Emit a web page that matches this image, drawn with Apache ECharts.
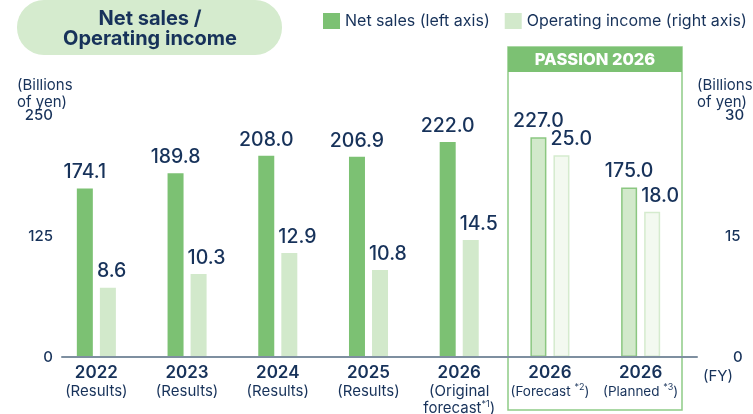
<!DOCTYPE html>
<html>
<head>
<meta charset="utf-8">
<script src="https://cdn.jsdelivr.net/npm/echarts@6/dist/echarts.min.js"></script>
<style>
  html, body { margin: 0; padding: 0; background: #fff; }
  #chart { width: 753px; height: 414px; }
</style>
</head>
<body>
<div id="chart"></div>
<script>
// data
const years = ['2022', '2023', '2024', '2025', '2026', '2026', '2026'];
const notes = ['Results', 'Results', 'Results', 'Results', 'Original', 'Forecast', 'Planned'];
const netSales = [174.1, 189.8, 208.0, 206.9, 222.0, 227.0, 175.0];
const opIncome = [8.6, 10.3, 12.9, 10.8, 14.5, 25.0, 18.0];
const leftTicks = [0, 125, 250];
const rightTicks = [0, 15, 30];
const passionStart = 5; // categories from here on belong to PASSION 2026

const navy = '#17325a';
const green = '#7cc173';
const pale = '#d2e9cb';
const axisGrey = '#7e8fa0';
const font = 'Inter';

// category labels
const catLabels = years.map((y, i) => {
  if (i === 4) return '{yr|' + y + '}\n{s|(Original}\n{s|forecast}{sup|*1}{s|)}';
  if (i === 5) return '{yr|' + y + '}\n{p|(Forecast }{sup|*2}{p|)}';
  if (i === 6) return '{yr|' + y + '}\n{p|(Planned }{sup|*3}{p|)}';
  return '{yr|' + y + '}\n{s|(' + notes[i] + ')}';
});

const netData = netSales.map((v, i) => i >= passionStart
  ? { value: v, itemStyle: { color: pale, borderColor: '#8bc781', borderWidth: 1.5 } }
  : v);
const opData = opIncome.map((v, i) => i >= passionStart
  ? { value: v, itemStyle: { color: '#f3f9f0', borderColor: '#d5ebce', borderWidth: 1.5 } }
  : v);

const chart = echarts.init(document.getElementById('chart'));

const option = {
  animation: false,
  textStyle: { fontFamily: font },
  legend: {
    left: 318, top: 8, width: 440,
    itemWidth: 17, itemHeight: 16, itemGap: 15,
    icon: 'rect',
    textStyle: { color: navy, fontSize: 16, fontFamily: font },
    data: ['Net sales (left axis)', 'Operating income (right axis)']
  },
  grid: [
    { left: 51, right: 67, top: 115, bottom: 57, outerBoundsMode: 'none' },
    { left: 62, right: 56, top: 115, bottom: 57, outerBoundsMode: 'none' }
  ],
  xAxis: [
    {
      type: 'category', gridIndex: 0, data: catLabels,
      axisLine: { show: false }, axisTick: { show: false },
      axisLabel: {
        interval: 0, margin: 6, color: navy,
        rich: {
          yr: { fontSize: 17, fontWeight: 600, color: navy, fontFamily: font, lineHeight: 20 },
          s: { fontSize: 15, color: navy, fontFamily: font, lineHeight: 17 },
          p: { fontSize: 13.5, color: navy, fontFamily: font, lineHeight: 17 },
          sup: { fontSize: 9, color: navy, fontFamily: font, verticalAlign: 'top', lineHeight: 17 }
        }
      }
    },
    {
      type: 'category', gridIndex: 1, data: years,
      axisLine: { show: true, onZero: false, lineStyle: { color: axisGrey, width: 2, opacity: 1 } },
      axisTick: { show: false }, axisLabel: { show: false }, splitLine: { show: false }
    }
  ],
  yAxis: [
    { type: 'value', gridIndex: 0, min: 0, max: 250, show: false },
    { type: 'value', gridIndex: 0, min: 0, max: 30, show: false },
    {
      type: 'value', gridIndex: 1, min: 0, max: 250, interval: 125, position: 'left',
      axisLine: { show: false }, axisTick: { show: false }, splitLine: { show: false },
      axisLabel: {
        margin: 9, color: navy, fontSize: 15, fontWeight: 500, fontFamily: font,
        formatter: v => leftTicks.includes(v) ? String(v) : ''
      }
    },
    {
      type: 'value', gridIndex: 1, min: 0, max: 30, interval: 15, position: 'right',
      axisLine: { show: false }, axisTick: { show: false }, splitLine: { show: false },
      axisLabel: {
        margin: 28, color: navy, fontSize: 15, fontWeight: 500, fontFamily: font,
        formatter: v => rightTicks.includes(v) ? (v === 0 ? '  0' : String(v)) : ''
      }
    }
  ],
  series: [
    {
      name: 'Net sales (left axis)', type: 'bar',
      xAxisIndex: 0, yAxisIndex: 0,
      barWidth: 16, barGap: '44%',
      itemStyle: { color: green },
      label: {
        show: true, position: 'top', distance: 6,
        color: navy, fontSize: 19.5, fontWeight: 500, fontFamily: font,
        formatter: p => p.value.toFixed(1)
      },
      data: netData
    },
    {
      name: 'Operating income (right axis)', type: 'bar',
      xAxisIndex: 0, yAxisIndex: 1,
      barWidth: 16,
      itemStyle: { color: pale },
      label: {
        show: true, position: 'top', distance: 6, align: 'left', offset: [-11, 0],
        color: navy, fontSize: 19.5, fontWeight: 500, fontFamily: font,
        formatter: p => p.value.toFixed(1)
      },
      data: opData
    }
  ],
  graphic: [
    // title pill
    {
      type: 'rect', z: 0,
      shape: { x: 17, y: 0, width: 265, height: 55, r: 27 },
      style: { fill: '#d5ebce' }
    },
    {
      type: 'text', z: 1,
      style: {
        text: 'Net sales /\nOperating income', x: 150, y: 29,
        align: 'center', verticalAlign: 'middle',
        fill: navy, fontSize: 20, fontWeight: 700, fontFamily: font, lineHeight: 20
      }
    },
    // axis units
    {
      type: 'text', z: 1,
      style: {
        text: '(Billions\nof yen)', x: 17, y: 77, fill: navy,
        fontSize: 15, fontFamily: font, lineHeight: 17
      }
    },
    {
      type: 'text', z: 1,
      style: {
        text: '(Billions\nof yen)', x: 697, y: 77, fill: navy,
        fontSize: 15, fontFamily: font, lineHeight: 17
      }
    },
    {
      type: 'text', z: 1,
      style: {
        text: '(FY)', x: 703, y: 376, verticalAlign: 'middle', fill: navy,
        fontSize: 15, fontFamily: font
      }
    },
    // baseline along the bottom of the plot
    {
      type: 'line', z: 100,
      shape: { x1: 62, y1: 357, x2: 697, y2: 357 },
      style: { stroke: axisGrey, lineWidth: 2 }
    },
    // PASSION 2026 frame
    {
      type: 'rect', z: 0,
      shape: { x: 508, y: 47, width: 174, height: 363 },
      style: { fill: 'none', stroke: '#8fcb86', lineWidth: 1.5 }
    },
    {
      type: 'rect', z: 1,
      shape: { x: 508, y: 47, width: 174, height: 25 },
      style: { fill: green }
    },
    {
      type: 'text', z: 2,
      style: {
        text: 'PASSION 2026', x: 595, y: 60, align: 'center', verticalAlign: 'middle',
        fill: '#fff', fontSize: 16.5, fontWeight: 800, fontFamily: font
      }
    }
  ]
};

chart.setOption(option);
</script>
</body>
</html>
